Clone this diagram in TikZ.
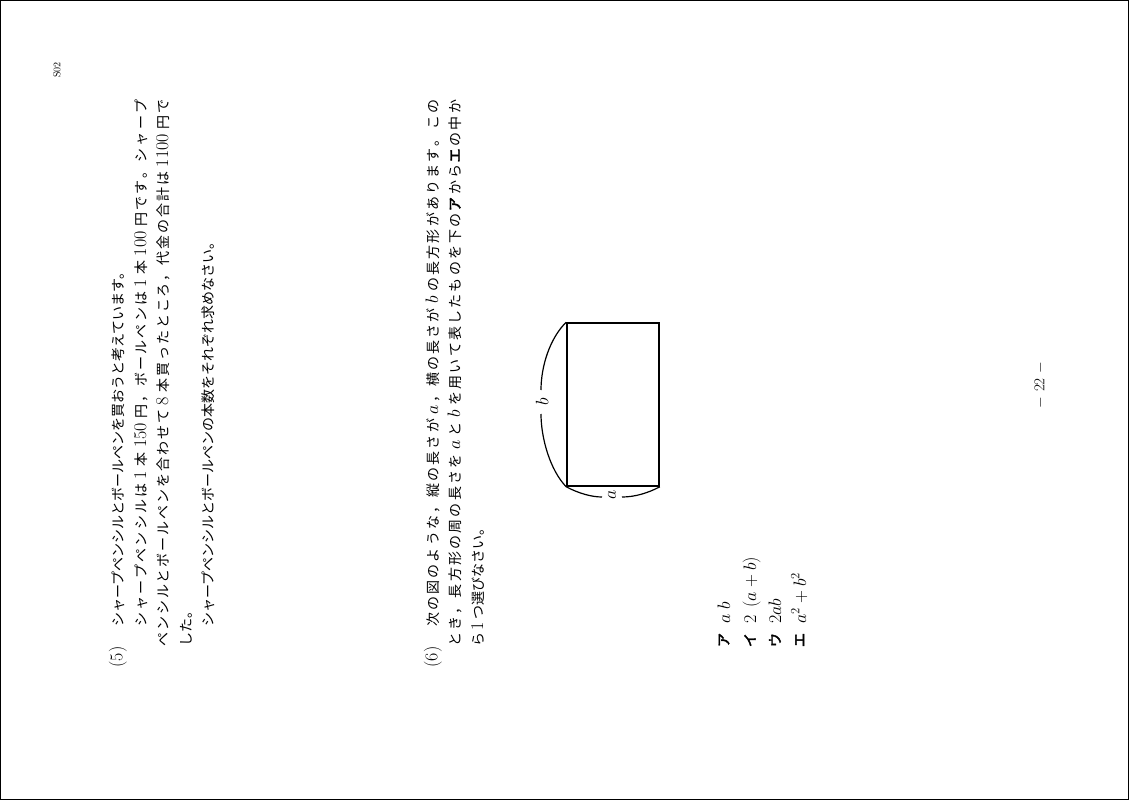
\RequirePackage{fix-cm}
\documentclass[tikz,border=0pt]{standalone}
\usepackage{fontspec}
\newfontfamily\jp{Noto Sans CJK JP}
\newfontfamily\jpb{Noto Sans CJK JP}[FakeBold=3]
\newcommand\mth[1]{{\fontsize{18}{18}\selectfont$#1$}}
\makeatletter
\newcommand\spreadline[2]{\hbox to #1{\@tfor\sp@x:=#2\do{{\sp@x}\hskip 0pt plus 1fil}\unskip}}
\makeatother
\tikzset{
  jl/.style={rotate=90, anchor=base west, inner sep=0pt, font=\jp\fontsize{14}{14}\selectfont},
  jc/.style={rotate=90, anchor=center, inner sep=0pt, font=\jp\fontsize{14}{14}\selectfont},
  numlab/.style={rotate=90, anchor=center, inner sep=0pt, font=\rmfamily\fontsize{18}{18}\selectfont},
  kana/.style={rotate=90, anchor=center, inner sep=0pt, font=\jpb\fontsize{14}{14}\selectfont},
  brace/.style={line width=1.2pt},
  rectbox/.style={draw, line width=1.6pt, inner sep=0pt, minimum width=92pt, minimum height=163pt},
}
\begin{document}
\begin{tikzpicture}[x=1pt, y=-1pt]
\useasboundingbox (0,0) rectangle (1129,800);
\draw[line width=1pt] (0.5,0.5) rectangle (1128.5,799.5);

% header / footer
\node[jc, font=\rmfamily\fontsize{10}{10}\selectfont] (hdr) at (57,70) {S02};
\node[jc, font=\rmfamily\fontsize{15}{15}\selectfont] (pg) at (1040,385) {$-$\,\,22\,\,$-$};

% problem (5)
\node[numlab] (n5) at (118,657) {(5)};
\node[jl] (p5a) at (123,627) {シャープペンシルとボールペンを買おうと考えています。};
\node[jl] (p5b) at (146,627) {\spreadline{527pt}{シャープペンシルは{\,\mth{1}\,}本{\,\mth{150}\,}円，ボールペンは{\,\mth{1}\,}本{\,\mth{100}\,}円です。シャープ}};
\node[jl] (p5c) at (168,647) {\spreadline{547pt}{ペンシルとボールペンを合わせて{\,\mth{8}\,}本買ったところ，代金の合計は{\,\mth{1100}\,}円で}};
\node[jl] (p5d) at (191,647) {した。};
\node[jl] (p5e) at (213,627) {シャープペンシルとボールペンの本数をそれぞれ求めなさい。};

% problem (6)
\node[numlab] (n6) at (433,657) {(6)};
\node[jl] (p6a) at (438,627) {\spreadline{527pt}{次の図のような，縦の長さが{\,\mth{a}}，横の長さが{\,\mth{b}\,}の長方形があります。この}};
\node[jl] (p6b) at (460,647) {\spreadline{547pt}{とき，長方形の周の長さを{\,\mth{a}\,}と{\,\mth{b}\,}を用いて表したものを下の{{\jpb ア}}から{{\jpb エ}}の中か}};
\node[jl] (p6c) at (483,647) {ら\,\mth{1}\,つ選びなさい。};

% figure
\node[rectbox] (rect) at (613,404.5) {};
\node[jc, font=\fontsize{18}{18}\selectfont] (lb) at (542,402) {$b$};
\node[jc, font=\fontsize{18}{18}\selectfont] (la) at (612,495) {$a$};
\coordinate (bt) at (541,390);
\coordinate (bb) at (541,414);
\coordinate (al) at (602,497);
\coordinate (ar) at (622,497);
\draw[brace] (rect.north west) .. controls (550,338) and (541,366) .. (bt);
\draw[brace] (bb) .. controls (541,438) and (550,470) .. (rect.south west);
\draw[brace] (rect.south west) .. controls (578,493) and (591,497) .. (al);
\draw[brace] (ar) .. controls (635,497) and (648,493) .. (rect.south east);

% choices
\node[kana] (ka) at (724,640) {ア};
\node[kana] (ki) at (750,640) {イ};
\node[kana] (ku) at (775,640) {ウ};
\node[kana] (ke) at (800,640) {エ};
\node[jl] (ca) at (730,624) {\mth{a\;b}};
\node[jl] (ci) at (756,624) {\mth{2\;\,(a+b)}};
\node[jl] (cu) at (781,624) {\mth{2ab}};
\node[jl] (ce) at (806,624) {\mth{a^{2}+b^{2}}};
\end{tikzpicture}
\end{document}
